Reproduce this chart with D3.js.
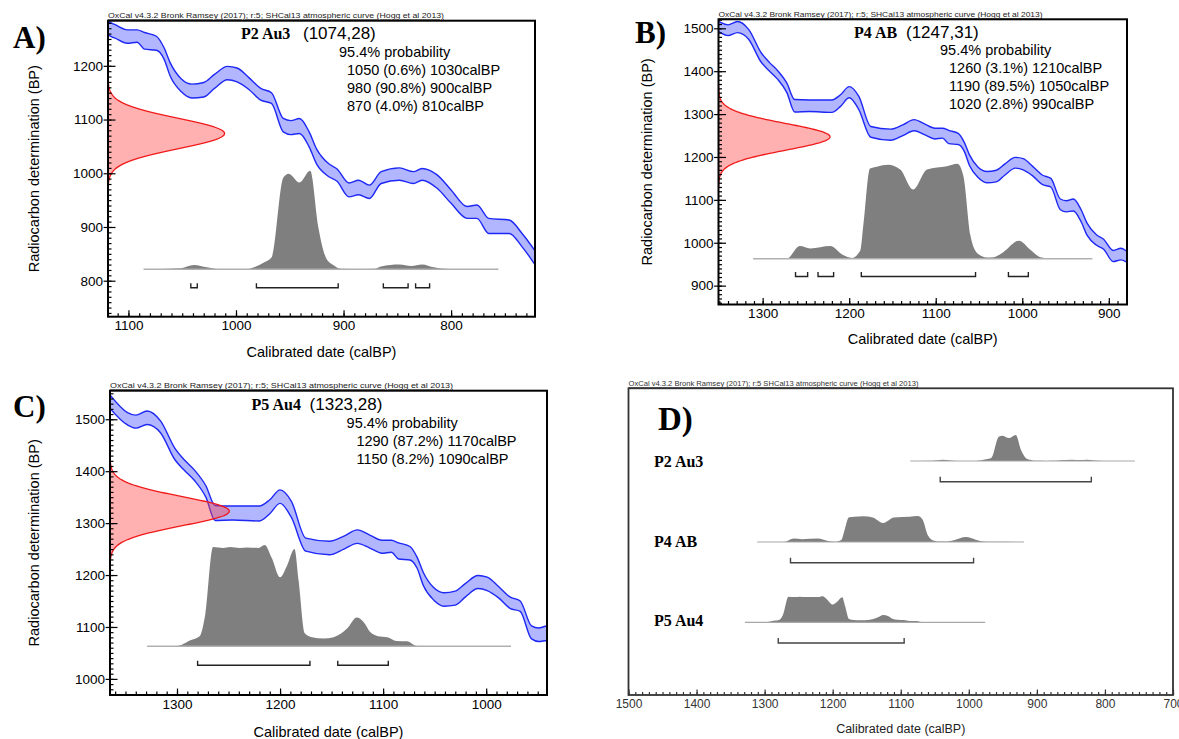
<!DOCTYPE html>
<html>
<head>
<meta charset="utf-8">
<script src="https://cdn.jsdelivr.net/npm/d3@7"></script>
<style>
  body { margin: 0; background: #fff; }
  svg { display: block; }
</style>
</head>
<body>
<svg id="chart" width="1179" height="739"></svg>
<script>
// SHCal13 atmospheric curve band: calendar age (calBP) with upper / lower radiocarbon age (BP)
const curveCal   = [1365,1348,1340,1329,1316,1302,1292,1283,1272,1263,1246,1220,1210,1200,1189,1175,1152,1138,1125,1113,1101,1092,1085,1074,1067,1061,1051,1041,1030,1020,1008,999,988,977,967,956,949,941,932,925,914,906,895,886,876,865,848,835,827,813,800,785,776,765,746,734,720];
const curveUpper = [1547,1513,1508,1516,1497,1444,1420,1402,1372,1334,1333,1333,1345,1364,1342,1271,1265,1275,1287,1277,1267,1267,1262,1255,1234,1205,1176,1166,1169,1184,1199,1196,1178,1158,1150,1102,1098,1102,1077,1045,1018,1008,982,987,978,1003,1010,1003,1009,997,969,938,941,916,913,888,850];
const curveLower = [1521,1489,1483,1490,1474,1422,1400,1382,1350,1305,1306,1304,1318,1338,1311,1246,1239,1250,1261,1252,1242,1244,1231,1229,1213,1180,1152,1140,1142,1158,1174,1170,1156,1136,1130,1077,1072,1074,1049,1017,994,985,956,960,953,981,987,981,987,972,944,916,916,888,888,863,824];

// Calibrated probability distributions (relative to each maximum)
const p2Cal  = [1086,1052,1039,1027,1017,990,982,974.5,967,956,951,941,931,923.5,916,909.5,903,885,872,865,848,837,827,816,802,756];
const p2Prob = [0,0.01,0.044,0.02,0.003,0.003,0.027,0.068,0.12,0.93,0.97,0.88,1.0,0.43,0.11,0.044,0.007,0.003,0.005,0.03,0.05,0.035,0.05,0.02,0.003,0];
const p4Cal  = [1311,1272,1257,1245,1222,1207,1197,1187,1183.5,1176,1168,1155,1141,1126,1110,1087,1075,1068,1060,1052,1041,1033,1022,1004,990,979,967,919];
const p4Prob = [0,0.003,0.135,0.11,0.135,0.04,0.01,0.09,0.37,0.95,0.97,0.99,0.94,0.73,0.94,0.975,1.0,0.87,0.25,0.06,0.015,0.018,0.07,0.19,0.09,0.018,0.005,0];
const p5Cal  = [1329,1300,1287,1278,1273,1265,1255,1248.5,1239,1232,1221,1215,1208,1200,1193.5,1186,1182,1176,1169,1158,1148,1135,1125.5,1119,1112.5,1105,1096,1087,1077,1067,976];
const p5Prob = [0,0.003,0.06,0.1,0.29,0.98,0.97,0.98,0.97,0.975,0.97,1.0,0.87,0.68,0.79,0.96,0.65,0.13,0.09,0.076,0.09,0.175,0.285,0.24,0.14,0.1,0.09,0.053,0.05,0.003,0];

// 95.4% ranges drawn as brackets (calBP)
const p2Brackets = [[1042,1036],[981,905],[863,840],[833,820]];
const p4Brackets = [[1262,1248],[1236,1218],[1186,1054],[1016,993]];
const p5Brackets = [[1280,1171],[1144,1095]];

// 95.4% ranges as reported: [from, percent, to]
const p2Ranges = [[1050,"0.6",1030],[980,"90.8",900],[870,"4.0",810]];
const p4Ranges = [[1260,"3.1",1210],[1190,"89.5",1050],[1020,"2.8",990]];
const p5Ranges = [[1290,"87.2",1170],[1150,"8.2",1090]];

// Samples: name, radiocarbon age and error
const sampleNames  = ["P2 Au3","P4 AB","P5 Au4"];
const sampleMeans  = [1074,1247,1323];
const sampleErrors = [28,31,28];

// Axis tick labels
const ticksCalA = [1100,1000,900,800];
const ticksBpA  = [800,900,1000,1100,1200];
const ticksCalB = [1300,1200,1100,1000,900];
const ticksBpB  = [900,1000,1100,1200,1300,1400,1500];
const ticksCalC = [1300,1200,1100,1000];
const ticksBpC  = [1000,1100,1200,1300,1400,1500];
const ticksCalD = [1500,1400,1300,1200,1100,1000,900,800,700];

const HEADER   = "OxCal v4.3.2 Bronk Ramsey (2017); r:5; SHCal13 atmospheric curve (Hogg et al 2013)";
const HEADER_D = "OxCal v4.3.2 Bronk Ramsey (2017); r:5 SHCal13 atmospheric curve (Hogg et al 2013)";
const SANS  = "'Liberation Sans', Arial, Helvetica, sans-serif";
const SERIF = "'Liberation Serif', 'Times New Roman', serif";

const dists = [
  {cal: p2Cal, prob: p2Prob, brackets: p2Brackets, ranges: p2Ranges},
  {cal: p4Cal, prob: p4Prob, brackets: p4Brackets, ranges: p4Ranges},
  {cal: p5Cal, prob: p5Prob, brackets: p5Brackets, ranges: p5Ranges}
];

const svg = d3.select("#chart");
const defs = svg.append("defs");

function stepValues(a, b, step) {
  const lo = Math.ceil(Math.min(a, b) / step) * step;
  const hi = Math.floor(Math.max(a, b) / step) * step;
  return d3.range(lo, hi + step / 2, step);
}

function styleAxis(sel, size, color) {
  sel.select(".domain").remove();
  sel.selectAll(".tick line").attr("stroke", color).attr("stroke-width", 1.2);
  sel.selectAll(".tick text").attr("font-size", size).attr("font-family", SANS).attr("fill", color);
}

function drawCalPanel(o) {
  const idx = o.sample;
  const d = dists[idx];
  const g = svg.append("g");
  const x = d3.scaleLinear().domain(o.calDomain).range([o.x0, o.x1]);
  const y = d3.scaleLinear().domain(o.bpDomain).range([o.y1, o.y0]);
  const w = o.x1 - o.x0, h = o.y1 - o.y0;

  defs.append("clipPath").attr("id", "clip" + o.id)
    .append("rect").attr("x", o.x0).attr("y", o.y0).attr("width", w).attr("height", h);
  const plot = g.append("g").attr("clip-path", `url(#clip${o.id})`);

  // calibration curve band
  const band = curveCal.map((c, i) => ({c, hi: curveUpper[i], lo: curveLower[i]}));
  plot.append("path").datum(band)
    .attr("d", d3.area().curve(d3.curveMonotoneX).x(p => x(p.c)).y0(p => y(p.lo)).y1(p => y(p.hi)))
    .attr("fill", "rgb(60,72,255)").attr("fill-opacity", 0.4);
  ["hi", "lo"].forEach(k => {
    plot.append("path").datum(band)
      .attr("d", d3.line().curve(d3.curveMonotoneX).x(p => x(p.c)).y(p => y(p[k])))
      .attr("fill", "none").attr("stroke", "rgb(30,40,245)").attr("stroke-width", 1.4);
  });

  // radiocarbon determination (normal distribution of the stated age and error)
  const mean = sampleMeans[idx], sd = sampleErrors[idx];
  const gauss = d3.range(-3.8, 3.8001, 0.05).map(k => ({v: mean + k * sd, p: Math.exp(-0.5 * k * k)}));
  const dx = d3.scaleLinear().domain([0, 1]).range([o.x0, o.x0 + 0.273 * w]);
  plot.append("path").datum(gauss)
    .attr("d", d3.area().x0(o.x0).x1(p => dx(p.p)).y(p => y(p.v)))
    .attr("fill", "rgb(255,60,60)").attr("fill-opacity", 0.4);
  plot.append("path").datum(gauss)
    .attr("d", d3.line().x(p => dx(p.p)).y(p => y(p.v)))
    .attr("fill", "none").attr("stroke", "rgb(240,25,25)").attr("stroke-width", 1.3);

  // calibrated distribution
  const baseY = o.y1 - 0.16 * h;
  const hy = d3.scaleLinear().domain([0, 1]).range([baseY, baseY - h / 3]);
  const pts = d.cal.map((c, i) => ({c, p: d.prob[i]}));
  plot.append("path").datum(pts)
    .attr("d", d3.area().curve(d3.curveMonotoneX).x(p => x(p.c)).y0(baseY).y1(p => hy(p.p)))
    .attr("fill", "#7f7f7f");
  plot.append("line")
    .attr("x1", x(d.cal[0])).attr("x2", x(d.cal[d.cal.length - 1]))
    .attr("y1", baseY).attr("y2", baseY)
    .attr("stroke", "#b0b0b0").attr("stroke-width", 1.5);

  // range brackets
  const by = o.y1 - 0.098 * h;
  d.brackets.forEach(([a, b]) => {
    plot.append("path")
      .attr("d", `M${x(a)},${by - 4.5}V${by}H${x(b)}V${by - 4.5}`)
      .attr("fill", "none").attr("stroke", "#222").attr("stroke-width", 1.4);
  });

  // axes
  const gx = g.append("g").attr("transform", `translate(0,${o.y1})`);
  gx.append("g").call(d3.axisBottom(x).tickValues(stepValues(o.calDomain[0], o.calDomain[1], 10)).tickSize(-3.5).tickFormat(""))
    .call(s => styleAxis(s, 13.5, "#000"));
  gx.append("g").call(d3.axisBottom(x).tickValues(o.calTicks).tickSize(-6.5).tickPadding(4.2).tickFormat(d3.format("d")))
    .call(s => styleAxis(s, 13.5, "#000"));
  const gy = g.append("g").attr("transform", `translate(${o.x0},0)`);
  gy.append("g").call(d3.axisLeft(y).tickValues(stepValues(o.bpDomain[0], o.bpDomain[1], 10)).tickSize(-3.5).tickFormat(""))
    .call(s => styleAxis(s, 13.5, "#000"));
  gy.append("g").call(d3.axisLeft(y).tickValues(o.bpTicks).tickSize(-7.5).tickFormat(""))
    .call(s => styleAxis(s, 13.5, "#000"));
  gy.append("g").call(d3.axisLeft(y).tickValues(o.bpTicks).tickSize(4.4).tickPadding(0.6).tickFormat(d3.format("d")))
    .call(s => styleAxis(s, 13.5, "#000"));

  // frame
  g.append("rect").attr("x", o.x0).attr("y", o.y0).attr("width", w).attr("height", h)
    .attr("fill", "none").attr("stroke", "#000").attr("stroke-width", 2);

  // texts
  g.append("text").attr("x", o.x0).attr("y", o.y0 - 2.3)
    .attr("font-family", SANS).attr("font-size", 8).attr("fill", "#222")
    .attr("text-decoration", "underline")
    .attr("textLength", o.headerLen).attr("lengthAdjust", "spacingAndGlyphs")
    .text(HEADER);
  g.append("text").attr("x", o.letter[0]).attr("y", o.letter[1])
    .attr("font-family", SERIF).attr("font-weight", "bold").attr("font-size", 31)
    .text(o.id + ")");
  g.append("text").attr("x", o.title[0]).attr("y", o.title[1])
    .attr("font-family", SERIF).attr("font-weight", "bold").attr("font-size", 16)
    .text(sampleNames[idx]);
  g.append("text").attr("x", o.paramX).attr("y", o.title[1])
    .attr("font-family", SANS).attr("font-size", 17)
    .text(`(${mean},${sd})`);
  g.append("text").attr("x", o.prob[0]).attr("y", o.prob[1])
    .attr("font-family", SANS).attr("font-size", 14.5)
    .text("95.4% probability");
  d.ranges.forEach((r, i) => {
    g.append("text").attr("x", o.rangeX).attr("y", o.prob[1] + 18 * (i + 1))
      .attr("font-family", SANS).attr("font-size", 14.5)
      .text(`${r[0]} (${r[1]}%) ${r[2]}calBP`);
  });
  g.append("text").attr("x", (o.x0 + o.x1) / 2).attr("y", o.xTitleY)
    .attr("text-anchor", "middle").attr("font-family", SANS).attr("font-size", 14.5)
    .text("Calibrated date (calBP)");
  g.append("text")
    .attr("transform", `translate(${o.yTitleX},${(o.y0 + o.y1) / 2}) rotate(-90)`)
    .attr("text-anchor", "middle").attr("dominant-baseline", "central")
    .attr("font-family", SANS).attr("font-size", 14.5)
    .text("Radiocarbon determination (BP)");
}

drawCalPanel({
  id: "A", sample: 0, x0: 108, x1: 535, y0: 20.7, y1: 316.7,
  calDomain: [1119, 722], bpDomain: [733, 1284], calTicks: ticksCalA, bpTicks: ticksBpA,
  headerLen: 336, letter: [13, 48], title: [241, 38.6], paramX: 303,
  prob: [339, 56.7], rangeX: 347, xTitleY: 356.5, yTitleX: 34
});
drawCalPanel({
  id: "B", sample: 1, x0: 718.5, x1: 1127, y0: 19.3, y1: 304.5,
  calDomain: [1351, 879], bpDomain: [856, 1521], calTicks: ticksCalB, bpTicks: ticksBpB,
  headerLen: 324, letter: [635, 43.3], title: [854, 38.3], paramX: 906,
  prob: [940, 55], rangeX: 949, xTitleY: 344, yTitleX: 646.5
});
drawCalPanel({
  id: "C", sample: 2, x0: 110, x1: 547, y0: 390.7, y1: 695,
  calDomain: [1365, 941], bpDomain: [969, 1555], calTicks: ticksCalC, bpTicks: ticksBpC,
  headerLen: 343, letter: [13, 416.7], title: [251.6, 410], paramX: 309.6,
  prob: [346.6, 427.7], rangeX: 356.4, xTitleY: 736.5, yTitleX: 34
});

// Panel D: the three calibrated distributions on a shared axis
(function drawSummary() {
  const x0 = 628.5, x1 = 1173, y0 = 388.3, y1 = 695;
  const g = svg.append("g");
  const x = d3.scaleLinear().domain([1500, 700]).range([x0, x1]);
  const rowBase = [461, 542, 622.3];
  const rowLabel = [466.5, 546.7, 626];
  const rowH = 26;

  dists.forEach((d, i) => {
    const hy = d3.scaleLinear().domain([0, 1]).range([rowBase[i], rowBase[i] - rowH]);
    const pts = d.cal.map((c, k) => ({c, p: d.prob[k]}));
    g.append("path").datum(pts)
      .attr("d", d3.area().curve(d3.curveMonotoneX).x(p => x(p.c)).y0(rowBase[i]).y1(p => hy(p.p)))
      .attr("fill", "#7f7f7f");
    g.append("line")
      .attr("x1", x(d.cal[0])).attr("x2", x(d.cal[d.cal.length - 1]))
      .attr("y1", rowBase[i]).attr("y2", rowBase[i])
      .attr("stroke", "#a8a8a8").attr("stroke-width", 1.2);
    const a = d.brackets[0][0], b = d.brackets[d.brackets.length - 1][1];
    const by = rowBase[i] + 20.7;
    g.append("path")
      .attr("d", `M${x(a)},${by - 5}V${by}H${x(b)}V${by - 5}`)
      .attr("fill", "none").attr("stroke", "#444").attr("stroke-width", 1.4);
    g.append("text").attr("x", 654).attr("y", rowLabel[i])
      .attr("font-family", SERIF).attr("font-weight", "bold").attr("font-size", 16)
      .text(sampleNames[i]);
  });

  const gx = g.append("g").attr("transform", `translate(0,${y1})`);
  gx.append("g").call(d3.axisBottom(x).tickValues(stepValues(1500, 700, 10)).tickSize(-3).tickFormat(""))
    .call(s => styleAxis(s, 12, "#333"));
  gx.append("g").call(d3.axisBottom(x).tickValues(ticksCalD).tickSize(-5.5).tickPadding(4.5).tickFormat(d3.format("d")))
    .call(s => styleAxis(s, 12, "#333"));

  g.append("rect").attr("x", x0).attr("y", y0).attr("width", x1 - x0).attr("height", y1 - y0)
    .attr("fill", "none").attr("stroke", "#333").attr("stroke-width", 1.8);

  g.append("text").attr("x", x0).attr("y", y0 - 2)
    .attr("font-family", SANS).attr("font-size", 7).attr("fill", "#333")
    .attr("text-decoration", "underline")
    .attr("textLength", 290).attr("lengthAdjust", "spacingAndGlyphs")
    .text(HEADER_D);
  g.append("text").attr("x", 658).attr("y", 430)
    .attr("font-family", SERIF).attr("font-weight", "bold").attr("font-size", 33)
    .text("D)");
  g.append("text").attr("x", (x0 + x1) / 2).attr("y", 733)
    .attr("text-anchor", "middle").attr("font-family", SANS).attr("font-size", 12.5).attr("fill", "#222")
    .text("Calibrated date (calBP)");
})();
</script>
</body>
</html>
